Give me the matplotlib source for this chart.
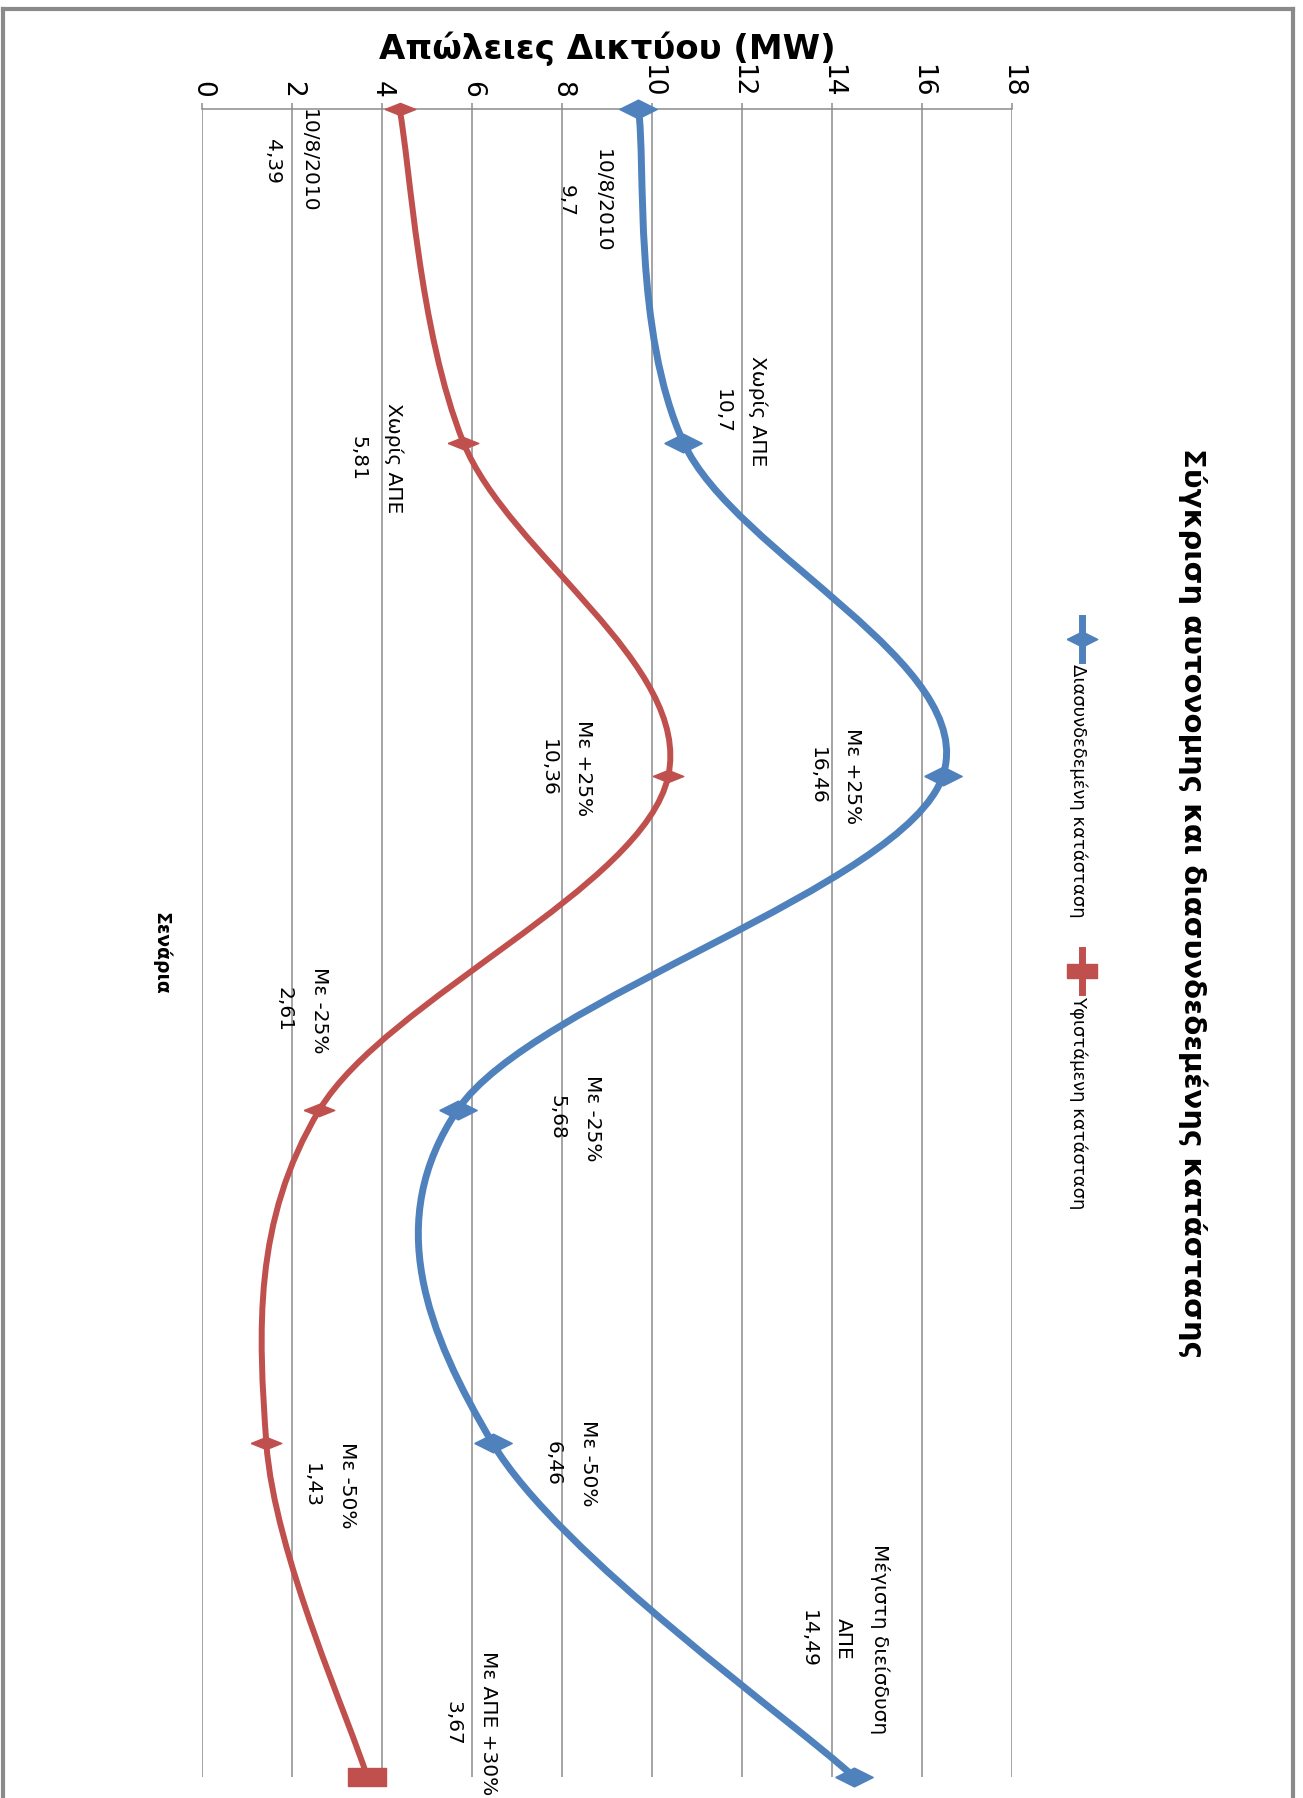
import numpy as np
import matplotlib
matplotlib.use("Agg")
import matplotlib.pyplot as plt
from matplotlib.path import Path
from matplotlib.patches import PathPatch
from matplotlib.lines import Line2D

scenarios = ["10/8/2010", "Χωρίς ΑΠΕ", "Με +25%", "Με -25%", "Με -50%"]
last_blue = "Μέγιστη διείσδυση\nΑΠΕ"
last_red = "Με ΑΠΕ +30%"
connected = [9.7, 10.7, 16.46, 5.68, 6.46, 14.49]
existing = [4.39, 5.81, 10.36, 2.61, 1.43, 3.67]
series_names = ["Διασυνδεδεμένη κατάσταση", "Υφιστάμενη κατάσταση"]
value_ticks = list(range(0, 20, 2))

# label offsets in pixels (dx right, dy down)
blue_off = [(-54, 92), (57, -31), (-108, 0), (117, 8), (78, 20), (-10, -138)]
red_off = [(-109, 52), (-87, 16), (-102, -8), (-18, -100), (63, 42), (104, -54)]

BLUE = "#4F81BD"
RED = "#C0504D"
GRID = "#8c8c8c"
plt.rcParams["font.family"] = "DejaVu Sans"

W, H = 1303, 1798
fig = plt.figure(figsize=(W / 100, H / 100), dpi=100)
ax = fig.add_axes([202 / W, (H - 1777) / H, (1012 - 202) / W, (1777 - 109) / H])


def smooth_path(vals):
    # excel style smoothed line: cubic bezier through the points
    pts = [(v, i) for i, v in enumerate(vals)]
    n = len(pts)
    verts = [pts[0]]
    codes = [Path.MOVETO]
    for i in range(n - 1):
        p0 = np.array(pts[max(i - 1, 0)])
        p1 = np.array(pts[i])
        p2 = np.array(pts[i + 1])
        p3 = np.array(pts[min(i + 2, n - 1)])
        c1 = p1 + (p2 - p0) / 6
        c2 = p2 - (p3 - p1) / 6
        verts += [tuple(c1), tuple(c2), tuple(p2)]
        codes += [Path.CURVE4] * 3
    return Path(verts, codes)


diamond = [(-1, 0), (0, 0.5), (1, 0), (0, -0.5), (-1, 0)]
thin_diamond = [(-1, 0), (0, 0.4), (1, 0), (0, -0.4), (-1, 0)]
flat_square = [(-1, -0.46), (1, -0.46), (1, 0.46), (-1, 0.46), (-1, -0.46)]

ax.add_patch(PathPatch(smooth_path(connected), fill=False, edgecolor=BLUE, lw=5,
                       capstyle="round", joinstyle="round", clip_on=False, zorder=3))
ax.add_patch(PathPatch(smooth_path(existing), fill=False, edgecolor=RED, lw=4.3,
                       capstyle="round", joinstyle="round", clip_on=False, zorder=3))

idx = np.arange(len(connected))
ax.plot(connected, idx, ls="none", marker=diamond, ms=27, color=BLUE, clip_on=False, zorder=4)
ax.plot(existing[:-1], idx[:-1], ls="none", marker=thin_diamond, ms=22, color=RED,
        clip_on=False, zorder=4)
ax.plot(existing[-1:], idx[-1:], ls="none", marker=flat_square, ms=27, color=RED,
        clip_on=False, zorder=4)

# data labels: category name + value
blue_cats = scenarios + [last_blue]
red_cats = scenarios + [last_red]
for cats, vals, offs in [(blue_cats, connected, blue_off), (red_cats, existing, red_off)]:
    for i, v in enumerate(vals):
        dx, dy = offs[i]
        ax.annotate(f"{cats[i]}\n{v:g}".replace(".", ","), (v, i), xytext=(dx, -dy),
                    textcoords="offset pixels", rotation=-90, ha="center", va="center",
                    multialignment="center", fontsize=14.5, linespacing=2.1,
                    annotation_clip=False)

ax.set_xlim(0, 18)
ax.set_ylim(len(connected) - 1, 0)
ax.set_xticks(value_ticks)
ax.xaxis.tick_top()
ax.set_xticklabels([str(t) for t in value_ticks], rotation=-90, fontsize=19)
ax.tick_params(axis="x", direction="out", length=4.3, width=1.1, color=GRID, pad=4)
ax.set_yticks([])
ax.grid(axis="x", color=GRID, lw=1.1)
ax.set_axisbelow(True)
for s in ["left", "right", "bottom"]:
    ax.spines[s].set_visible(False)
ax.spines["top"].set_color(GRID)
ax.spines["top"].set_linewidth(1.1)

# axis titles
fig.text(607 / W, 1 - 49 / H, "Απώλειες Δικτύου (MW)", ha="center", va="center",
         fontsize=24.5, fontweight="bold")
fig.text(161 / W, 1 - 953 / H, "Σενάρια", ha="center", va="center", rotation=-90,
         fontsize=13.5, fontweight="bold")

# chart title
fig.text(1193 / W, 1 - 903 / H, "Σύγκριση αυτονομης και διασυνδεδεμένης κατάστασης",
         ha="center", va="center", rotation=-90, fontsize=21, fontweight="bold")

# legend
for (name, color, mk, y0) in [(series_names[0], BLUE, diamond, 639),
                               (series_names[1], RED, flat_square, 971)]:
    fig.add_artist(Line2D([1082 / W, 1082 / W], [1 - (y0 - 21) / H, 1 - (y0 + 21) / H],
                          color=color, lw=5, transform=fig.transFigure))
    fig.add_artist(Line2D([1082 / W], [1 - y0 / H], color=color, marker=mk, ms=22,
                          ls="none", transform=fig.transFigure))
    fig.text(1078 / W, 1 - (y0 + 25) / H, name, ha="center", va="top", rotation=-90,
             fontsize=13)

# outer chart border
for xs, ys in [([3, 3], [9, H]), ([3, 1293], [9, 9]), ([1293, 1293], [9, H])]:
    fig.add_artist(Line2D([x / W for x in xs], [1 - y / H for y in ys], color="#8a8a8a",
                          lw=3, transform=fig.transFigure))

fig.savefig("out.png", dpi=100, facecolor="white")
